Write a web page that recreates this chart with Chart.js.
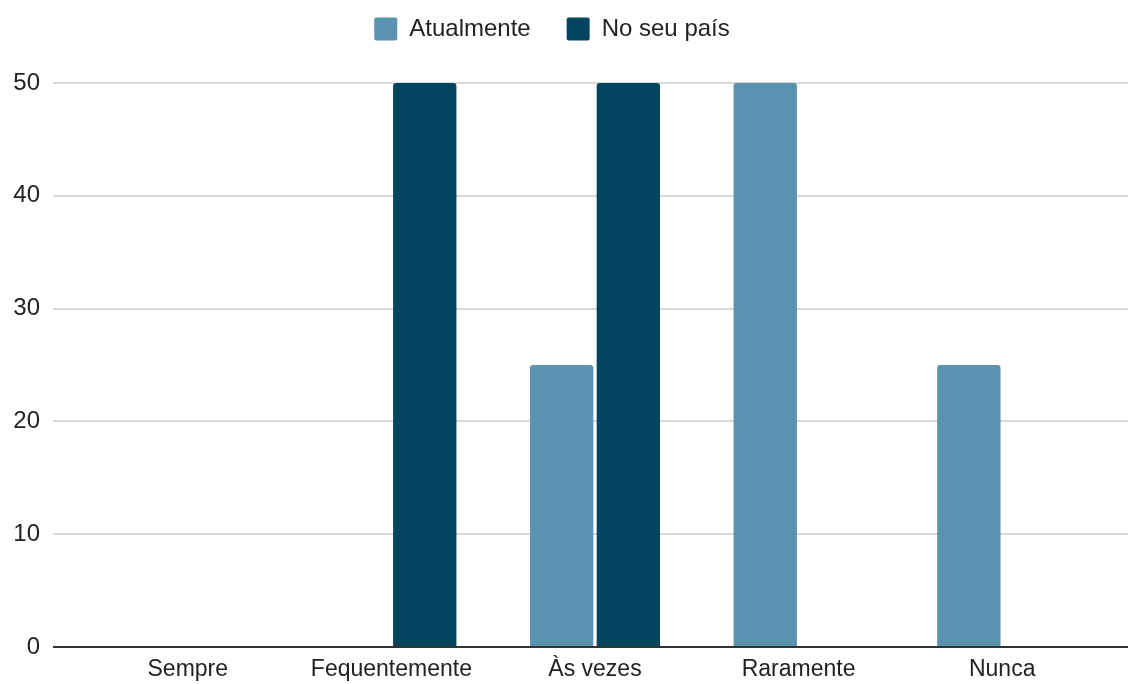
<!DOCTYPE html>
<html>
<head>
<meta charset="utf-8">
<script src="https://cdn.jsdelivr.net/npm/chart.js@4"></script>
<style>
  html, body { margin: 0; padding: 0; background: #fff; }
  #wrap { width: 1128px; height: 684px; }
</style>
</head>
<body>
<div id="wrap"><canvas id="chart" width="1128" height="684"></canvas></div>
<script>
const categories = ["Sempre", "Fequentemente", "Às vezes", "Raramente", "Nunca"];
const atualmente = [0, 0, 25, 50, 25];
const noSeuPais = [0, 50, 50, 0, 0];
const yTicks = [0, 10, 20, 30, 40, 50];

const FONT = "'Liberation Sans', Arial, sans-serif";

// gridlines in the reference run past the category area, so draw them by hand
const wideGrid = {
  id: "wideGrid",
  beforeInit(chart) {
    // leave more room under the legend
    const origFit = chart.legend.fit;
    chart.legend.fit = function () {
      origFit.bind(chart.legend)();
      this.height = 102;
    };
  },
  beforeDatasetsDraw(chart) {
    const ctx = chart.ctx;
    const y = chart.scales.y;
    ctx.save();
    yTicks.forEach((v) => {
      if (v === 0) return;
      const py = Math.round(y.getPixelForValue(v));
      ctx.strokeStyle = "#cccccc";
      ctx.lineWidth = 1.5;
      ctx.beginPath();
      ctx.moveTo(53, py);
      ctx.lineTo(1128, py);
      ctx.stroke();
    });
    ctx.restore();
  },
  afterDatasetsDraw(chart) {
    const ctx = chart.ctx;
    const py = Math.round(chart.scales.y.getPixelForValue(0));
    ctx.save();
    ctx.strokeStyle = "#333333";
    ctx.lineWidth = 2;
    ctx.beginPath();
    ctx.moveTo(53, py);
    ctx.lineTo(1128, py);
    ctx.stroke();
    ctx.restore();
  },
};

const ctx = document.getElementById("chart").getContext("2d");
new Chart(ctx, {
  type: "bar",
  data: {
    labels: categories,
    datasets: [
      {
        label: "Atualmente",
        data: atualmente,
        backgroundColor: "#5a93b0",
        borderRadius: { topLeft: 3, topRight: 3 },
        borderSkipped: "bottom",
        categoryPercentage: 0.655,
        barPercentage: 0.95,
      },
      {
        label: "No seu país",
        data: noSeuPais,
        backgroundColor: "#03455f",
        borderRadius: { topLeft: 3, topRight: 3 },
        borderSkipped: "bottom",
        categoryPercentage: 0.655,
        barPercentage: 0.95,
      },
    ],
  },
  options: {
    responsive: false,
    animation: false,
    layout: { padding: { left: 0, right: 24, top: -19, bottom: 0 } },
    plugins: {
      legend: {
        position: "top",
        align: "center",
        labels: {
          boxWidth: 23,
          boxHeight: 23,
          padding: 36,
          color: "#222",
          font: { family: FONT, size: 24 },
          useBorderRadius: true,
          borderRadius: 2,
          generateLabels(chart) {
            return chart.data.datasets.map((ds, i) => ({
              text: ds.label,
              fillStyle: ds.backgroundColor,
              strokeStyle: ds.backgroundColor,
              lineWidth: 0,
              borderRadius: 2,
              datasetIndex: i,
              fontColor: "#222",
            }));
          },
        },
      },
      tooltip: { enabled: false },
    },
    scales: {
      x: {
        afterFit(scale) {
          scale.height = 37;
        },
        grid: { display: false },
        border: { display: false },
        ticks: {
          color: "#222",
          padding: 1,
          font: { family: FONT, size: 23 },
        },
      },
      y: {
        min: 0,
        max: 50,
        afterFit(scale) {
          scale.width = 86;
          scale.paddingTop = 0;
          scale.paddingBottom = 0;
        },
        afterBuildTicks(scale) {
          scale.ticks = yTicks.map((v) => ({ value: v }));
        },
        grid: { display: false, drawTicks: false },
        border: { display: false },
        ticks: {
          color: "#222",
          padding: 46,
          font: { family: FONT, size: 24 },
        },
      },
    },
  },
  plugins: [wideGrid],
});
</script>
</body>
</html>
